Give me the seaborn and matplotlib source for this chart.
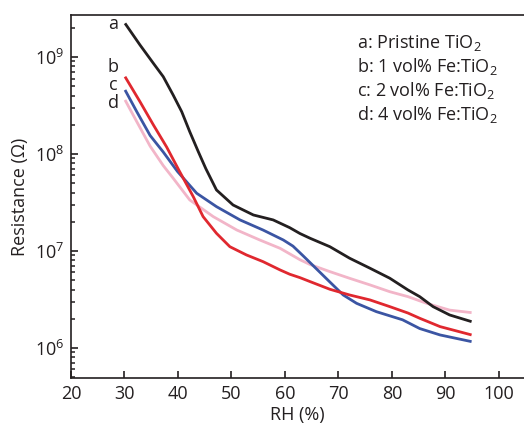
import numpy as np
import pandas as pd
import matplotlib
matplotlib.use("Agg")
import matplotlib.pyplot as plt
import seaborn as sns
from matplotlib.ticker import FixedLocator, NullFormatter

# ---- data (RH %, log10 resistance in ohm) ----
a_x = [30.1, 32.9, 35.4, 37.25, 39.1, 40.7, 42.2, 43.8, 45.2, 47.2, 50.3, 54.1, 57.8, 60.9,
       62.8, 64.7, 68.4, 72.1, 75.9, 79.6, 83.0, 85.2, 87.7, 90.8, 94.9]
a_logr = [9.347, 9.124, 8.935, 8.797, 8.608, 8.436, 8.23, 8.024, 7.85, 7.629, 7.474, 7.371, 7.32, 7.24,
          7.18, 7.131, 7.044, 6.925, 6.822, 6.719, 6.598, 6.529, 6.426, 6.34, 6.271]

b_x = [30.1, 32.9, 35.4, 37.9, 40.2, 42.86, 44.7, 47.2, 49.7, 52.8, 55.9, 59.1, 60.9, 62.8,
       64.7, 68.4, 72.1, 75.9, 79.6, 83.0, 85.2, 89.0, 94.9]
b_logr = [8.797, 8.539, 8.30, 8.07, 7.83, 7.56, 7.354, 7.182, 7.044, 6.959, 6.89, 6.804, 6.76, 6.725,
          6.684, 6.605, 6.546, 6.495, 6.426, 6.36, 6.306, 6.22, 6.134]

c_x = [30.1, 32.3, 34.8, 37.25, 39.9, 43.5, 47.2, 51.6, 55.9, 59.7, 61.5, 63.4, 65.9, 68.4,
       70.9, 73.4, 77.1, 82.0, 85.2, 89.0, 94.9]
c_logr = [8.66, 8.436, 8.19, 8.02, 7.82, 7.595, 7.457, 7.32, 7.216, 7.113, 7.05, 6.95, 6.815, 6.68,
          6.546, 6.46, 6.374, 6.29, 6.20, 6.134, 6.065]

d_x = [30.1, 32.3, 34.8, 37.25, 39.1, 42.2, 46.6, 51.0, 55.3, 59.1, 62.8, 64.7, 68.4, 72.1,
       75.9, 79.6, 83.0, 86.5, 90.8, 94.9]
d_logr = [8.557, 8.333, 8.08, 7.88, 7.75, 7.526, 7.354, 7.216, 7.113, 7.027, 6.91, 6.86, 6.787, 6.718,
          6.65, 6.58, 6.529, 6.46, 6.39, 6.364]

labels = ["a", "b", "c", "d"]
legend_lines = ["a: Pristine TiO$_2$", "b: 1 vol% Fe:TiO$_2$",
                "c: 2 vol% Fe:TiO$_2$", "d: 4 vol% Fe:TiO$_2$"]
x_ticks = [20, 30, 40, 50, 60, 70, 80, 90, 100]
y_decades = [6, 7, 8, 9]

colors = {"a": "#231f20", "b": "#e0282f", "c": "#3b55a3", "d": "#f2b5c8"}
ink = "#231f20"

frames = []
for lab, xs, ls in [("d", d_x, d_logr), ("c", c_x, c_logr), ("b", b_x, b_logr), ("a", a_x, a_logr)]:
    frames.append(pd.DataFrame({"RH": xs, "R": 10 ** np.array(ls), "sample": lab}))
df = pd.concat(frames, ignore_index=True)

sns.set_style("white")
plt.rcParams.update({
    "font.family": ["Open Sans", "DejaVu Sans"],
    "mathtext.fontset": "custom",
    "mathtext.rm": "Open Sans",
    "mathtext.it": "Open Sans:italic",
    "mathtext.bf": "Open Sans:bold",
})

fig = plt.figure(figsize=(5.24, 4.26), dpi=100)
ax = fig.add_axes([71 / 524, 1 - 378 / 426, 1 - 71 / 524 + 0.001, (378 - 15) / 426])

for lab in ["d", "c", "b", "a"]:
    sns.lineplot(data=df[df["sample"] == lab], x="RH", y="R", color=colors[lab],
                 lw=2.0, estimator=None, sort=False, ax=ax, legend=False,
                 solid_joinstyle="round", solid_capstyle="butt")

ax.set_yscale("log")
ax.set_xlim(20, 104.8)
ax.set_ylim(10 ** 5.69, 10 ** 9.433)
ax.set_xticks(x_ticks)
ax.set_xticklabels([str(t) for t in x_ticks])
ax.set_yticks([10.0 ** d for d in y_decades])
ax.set_yticklabels([f"$10^{{{d}}}$" for d in y_decades])
ax.yaxis.set_minor_locator(FixedLocator([m * 10.0 ** d for d in [5] + y_decades for m in range(2, 10)]))
ax.yaxis.set_minor_formatter(NullFormatter())
ax.set_ylim(10 ** 5.69, 10 ** 9.433)

for side in ["left", "bottom", "top"]:
    ax.spines[side].set_color(ink)
    ax.spines[side].set_linewidth(1.2)
ax.spines["right"].set_visible(False)

ax.tick_params(axis="y", which="both", left=True, right=False, direction="in")
ax.tick_params(axis="x", which="major", bottom=True, top=False, direction="in")
ax.tick_params(axis="both", which="major", length=5, width=1.2, color=ink,
               labelsize=13, labelcolor=ink, pad=5)
ax.tick_params(axis="y", which="minor", length=3.2, width=1.1, color=ink)

ax.set_xlabel("RH (%)", fontsize=13, color=ink, labelpad=2)
ax.set_ylabel("Resistance (Ω)", fontsize=13, color=ink, labelpad=4)

# curve labels
for lab, ly in zip(labels, [9.286, 8.848, 8.660, 8.471]):
    ax.text(27.94, 10 ** ly, lab, ha="center", va="baseline", fontsize=13, color=ink)

# legend text block
for i, line in enumerate(legend_lines):
    fig.text(356.7 / 524, 1 - (48.3 + 23.9 * i) / 426, line, ha="left", va="baseline",
             fontsize=13, color=ink)

fig.savefig("out.png", dpi=100)
